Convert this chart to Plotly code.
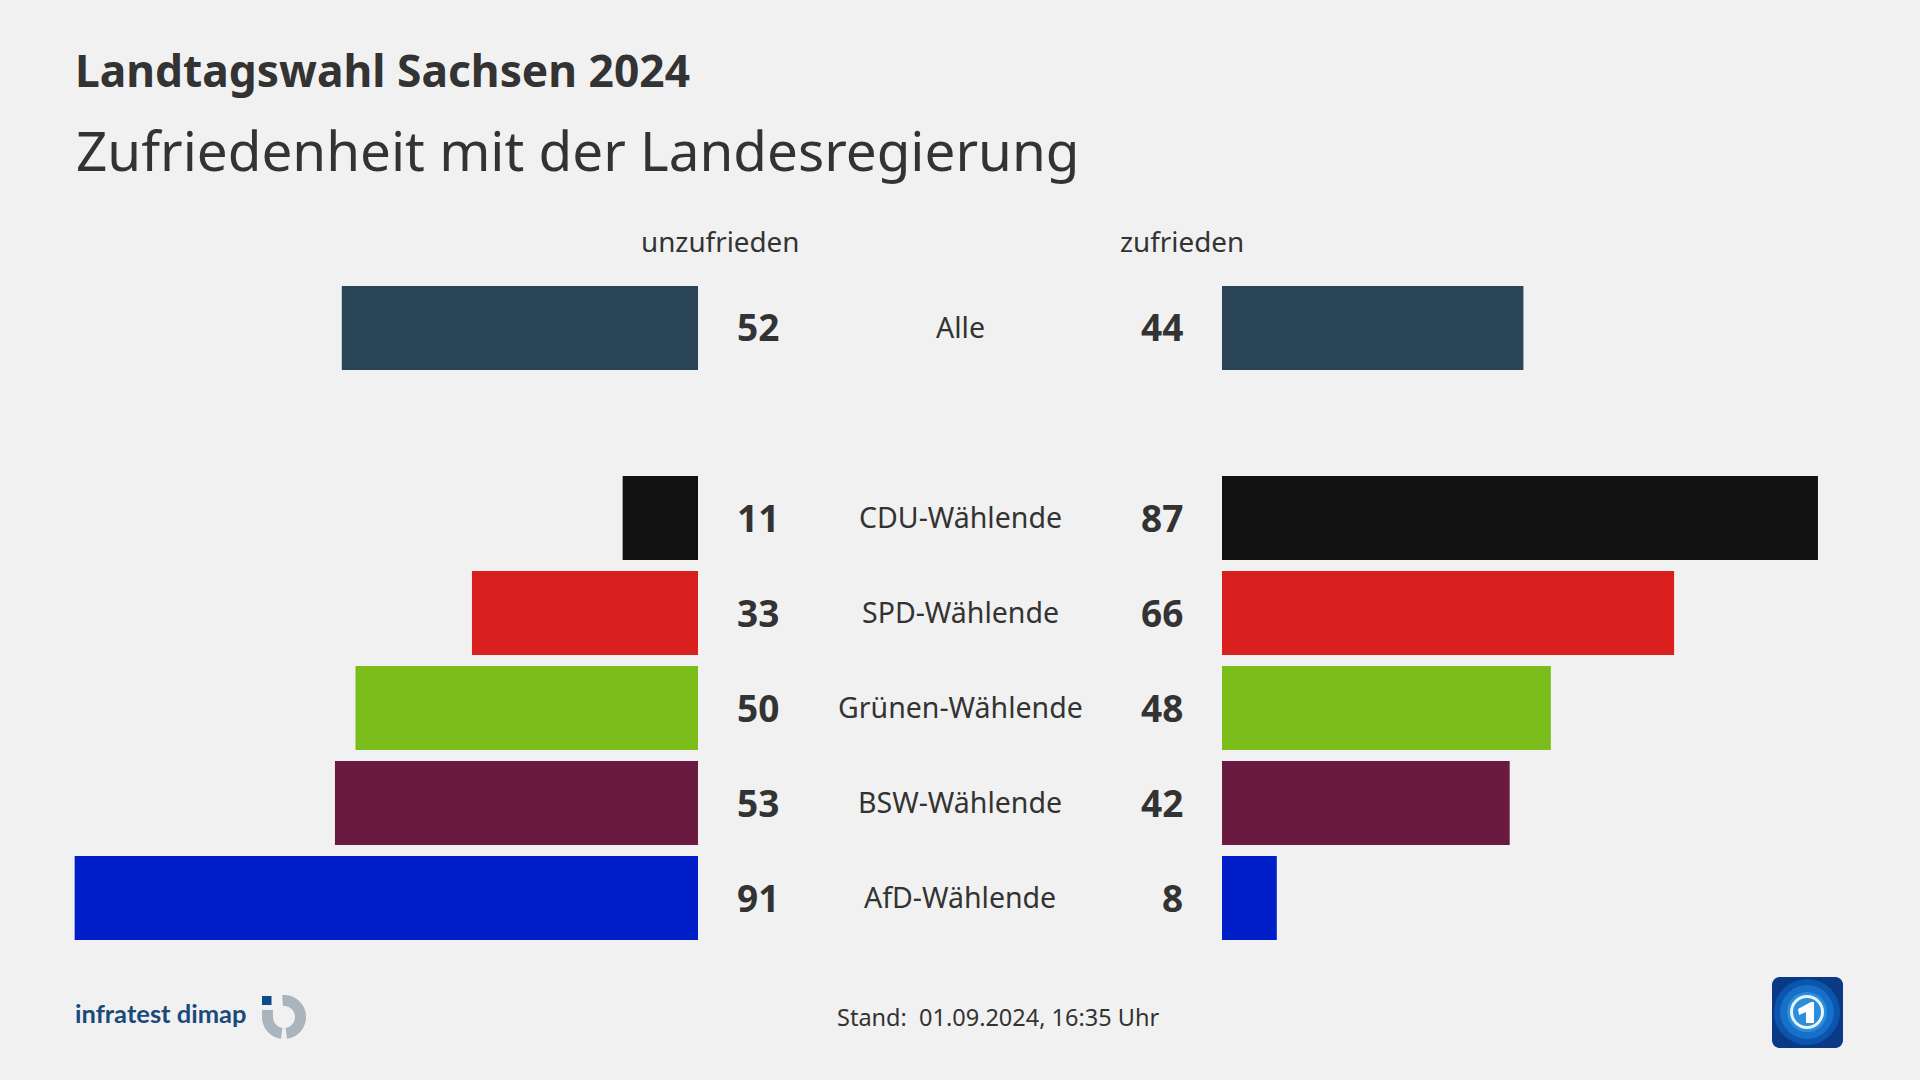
import numpy as np
import plotly.graph_objects as go

W, H = 1920, 1080
FONT = "Noto Sans"
INK = "#333333"

categories = ["Alle", " ", "CDU-Wählende", "SPD-Wählende", "Grünen-Wählende", "BSW-Wählende", "AfD-Wählende"]
unzufrieden = [52, None, 11, 33, 50, 53, 91]
zufrieden = [44, None, 87, 66, 48, 42, 8]
colors = ["#2b4558", "#f1f1f1", "#111111", "#d9201e", "#7abd1a", "#6a1a40", "#001fc8"]
title_text = "Landtagswahl Sachsen 2024"
subtitle_text = "Zufriedenheit mit der Landesregierung"
left_header = "unzufrieden"
right_header = "zufrieden"
stand_text = "Stand:  01.09.2024, 16:35 Uhr"


def px(x):
    return x / W


def py(y):
    return 1 - y / H


def poly(points, fill):
    d = "M " + " L ".join(f"{px(x):.5f},{py(y):.5f}" for x, y in points) + " Z"
    return dict(type="path", xref="paper", yref="paper", path=d,
                fillcolor=fill, line_width=0, layer="above")


def circle(cx, cy, r, fill=None, line=None, lw=0):
    return dict(type="circle", xref="paper", yref="paper",
                x0=px(cx - r), x1=px(cx + r), y0=py(cy + r), y1=py(cy - r),
                fillcolor=fill or "rgba(0,0,0,0)", line=dict(color=line or "rgba(0,0,0,0)", width=lw),
                layer="above")


def ring(cx, cy, r0, r1, a0, a1, fill):
    t = np.radians(np.linspace(a0, a1, 60))
    outer = [(cx + r1 * np.cos(a), cy + r1 * np.sin(a)) for a in t]
    inner = [(cx + r0 * np.cos(a), cy + r0 * np.sin(a)) for a in t[::-1]]
    return poly(outer + inner, fill)


def rounded(x0, y0, x1, y1, r, fill):
    pts = []
    for cx, cy, a0 in [(x1 - r, y0 + r, -90), (x1 - r, y1 - r, 0), (x0 + r, y1 - r, 90), (x0 + r, y0 + r, 180)]:
        for a in np.radians(np.linspace(a0, a0 + 90, 10)):
            pts.append((cx + r * np.cos(a), cy + r * np.sin(a)))
    return poly(pts, fill)


def note(x, y, text, size, anchor="left", bold=False, color=INK, family=FONT):
    return dict(xref="paper", yref="paper", x=px(x), y=py(y), text=f"<b>{text}</b>" if bold else text,
                showarrow=False, xanchor=anchor, yanchor="middle",
                font=dict(family=family, size=size, color=color))


fig = go.Figure()
fig.add_trace(go.Bar(y=categories, x=unzufrieden, orientation="h", marker=dict(color=colors, line_width=0),
                     xaxis="x", yaxis="y", hoverinfo="skip", showlegend=False))
fig.add_trace(go.Bar(y=categories, x=zufrieden, orientation="h", marker=dict(color=colors, line_width=0),
                     xaxis="x2", yaxis="y", hoverinfo="skip", showlegend=False))

annotations = [
    note(73, 69.5, title_text, 44.3, bold=True),
    note(74, 149.5, subtitle_text, 54.8),
    note(720, 241, left_header, 27.8, "center"),
    note(1182, 241, right_header, 27.8, "center"),
    note(998, 1017, stand_text, 23.5, "center"),
    note(73, 1013, "infratest dimap", 25.5, color="#1a4a7a", bold=True, family="Lato"),
]
for cat, a, b in zip(categories, unzufrieden, zufrieden):
    if a is None:
        continue
    annotations.append(dict(xref="paper", yref="y", x=px(781), y=cat, yshift=1, text=f"<b>{a}</b>", showarrow=False,
                            xanchor="right", yanchor="middle", font=dict(family=FONT, size=37, color=INK)))
    annotations.append(dict(xref="paper", yref="y", x=px(1185), y=cat, yshift=1, text=f"<b>{b}</b>", showarrow=False,
                            xanchor="right", yanchor="middle", font=dict(family=FONT, size=37, color=INK)))
    annotations.append(dict(xref="paper", yref="y", x=px(960), y=cat, yshift=1, text=cat, showarrow=False,
                            xanchor="center", yanchor="middle", font=dict(family=FONT, size=28.5, color=INK)))

shapes = [
    poly([(262, 996), (271.5, 996), (271.5, 1005), (262, 1005)], "#0f4a8a"),
    ring(284, 1017, 11, 22, -95, 82, "#a9b4bd"),
    ring(284, 1017, 11, 22, 98, 180, "#a9b4bd"),
    poly([(262, 1010), (273, 1010), (273, 1017), (262, 1017)], "#a9b4bd"),
    rounded(1772, 977, 1843, 1048, 8, "#0a3a86"),
    circle(1807, 1012, 33, "#0b55ad"),
    circle(1807, 1012, 27, "#1670c8"),
    circle(1807, 1012, 20, "#2a8edb"),
    circle(1807, 1012, 15.5, None, "#e8f3fb", 3),
    poly([(1798, 1009), (1811, 1002), (1814, 1002), (1814, 1023), (1806, 1023), (1806, 1012), (1799, 1015)], "#ffffff"),
]

unit = 6.85
fig.update_layout(
    width=W, height=H, margin=dict(l=0, r=0, t=0, b=0), autosize=False,
    paper_bgcolor="#f1f1f1", plot_bgcolor="#f1f1f1",
    barmode="overlay", bargap=11 / 95, showlegend=False,
    annotations=annotations, shapes=shapes,
    xaxis=dict(domain=[0, px(698)], range=[698 / unit, 0], visible=False, fixedrange=True),
    xaxis2=dict(domain=[px(1222), 1], range=[0, 698 / unit], visible=False, fixedrange=True, anchor="y"),
    yaxis=dict(domain=[py(945.5), py(280.5)], type="category", categoryorder="array", categoryarray=categories,
               range=[6.5, -0.5], visible=False, fixedrange=True),
)
fig.write_html("out.html", config={"displayModeBar": False},
               post_script="document.body.style.margin='0';document.body.style.background='#f1f1f1';")
